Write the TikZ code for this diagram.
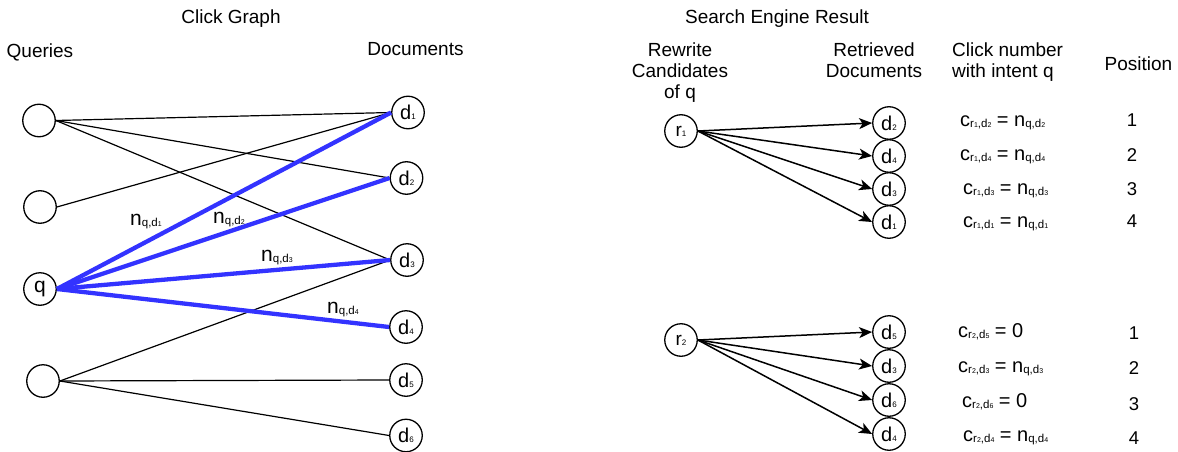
\documentclass[tikz,border=0pt]{standalone}
\usepackage{fontspec}
\setmainfont{Liberation Sans}
\usetikzlibrary{arrows.meta}

% font size shortcut
\newcommand\fs[1]{\fontsize{#1}{#1}\selectfont}
% first- and second-level subscripts
\newcommand\subA[1]{\raisebox{-1pt}{\fs{11.5}#1}}
\newcommand\subB[1]{{\fs{7}#1}}
% click counts n_{q,d_i}
\newcommand\nqd[2][21]{{\fs{#1}n}\subA{q,d\subB{#2}}}
% click counts c_{r_i,d_j}
\newcommand\crd[2]{{\fs{20}c}\subA{r\subB{#1},d\subB{#2}}}
\newcommand\eq{{\fs{20}\ =\ }}
% document / rewrite node labels
\newcommand\dlab[1]{{\fs{20}d}{\fs{8}#1}}
\newcommand\rlab[1]{{\fs{19}r}{\fs{8}#1}}

\definecolor{hlblue}{RGB}{51,51,255}
\tikzset{
  vertex/.style={circle, draw, line width=1.3pt, minimum size=32.5pt, inner sep=0pt},
  txt/.style={inner sep=0pt, font=\fs{19}},
  multi/.style={txt, align=center, font=\fontsize{19}{21}\selectfont},
  clicklink/.style={line width=1.2pt},
  strong/.style={line width=4.3pt, draw=hlblue},
  result/.style={line width=1.5pt, -{Stealth[length=13pt, width=11pt, inset=3.5pt]}},
  eqn/.style={inner sep=0pt, anchor=base west},
  posn/.style={inner sep=0pt, anchor=base, font=\fs{18.5}},
}

\begin{document}
\begin{tikzpicture}[x=1pt, y=-1pt]
\useasboundingbox (0,0) rectangle (1178,452);

% ---------- click graph ----------
\node[txt, anchor=base] (cgtitle) at (231,23.3) {Click Graph};
\node[txt, anchor=base west] (qhead) at (6.5,57.5) {Queries};
\node[txt, anchor=base] (dhead) at (415.5,56) {Documents};

\node[vertex] (qa) at (39,120.5) {};
\node[vertex] (qb) at (40,207) {};
\node[vertex] (q)  at (40,289) {\fs{21}q};
\node[vertex] (qc) at (43,381) {};

\node[vertex] (d1) at (408,112.5) {\dlab{1}};
\node[vertex] (d2) at (406.5,178) {\dlab{2}};
\node[vertex] (d3) at (407,260) {\dlab{3}};
\node[vertex] (d4) at (406,327) {\dlab{4}};
\node[vertex] (d5) at (406,380) {\dlab{5}};
\node[vertex] (d6) at (406,435.5) {\dlab{6}};

\draw[clicklink] (qa.east) -- (d1.west);
\draw[clicklink] (qa.east) -- (d2.west);
\draw[clicklink] (qa.east) -- (d3.west);
\draw[clicklink] (qb.east) -- (d1.west);
\draw[clicklink] (qc.east) -- (d3.west);
\draw[clicklink] (qc.east) -- (d5.west);
\draw[clicklink] (qc.east) -- (d6.west);

\draw[strong] (q.east) -- (d1.west);
\draw[strong] (q.east) -- (d2.west);
\draw[strong] (q.east) -- (d3.west);
\draw[strong] (q.east) -- (d4.west);

\node[inner sep=0pt, anchor=base west] (n1) at (130,225) {\nqd{1}};
\node[inner sep=0pt, anchor=base west] (n2) at (213,223) {\nqd{2}};
\node[inner sep=0pt, anchor=base west] (n3) at (261,261) {\nqd{3}};
\node[inner sep=0pt, anchor=base west] (n4) at (327,313) {\nqd{4}};

% ---------- search engine result ----------
\node[txt, anchor=base] (sertitle) at (777,23.3) {Search Engine Result};
\node[multi, anchor=north] (rhead) at (680,43) {Rewrite\\Candidates\\of q};
\node[multi, anchor=north] (rdhead) at (874,43) {Retrieved\\Documents};
\node[multi, align=left, anchor=north west] (chead) at (952,43) {Click number\\with intent q};
\node[txt, anchor=base] (phead) at (1138.5,70.5) {Position};

\node[vertex] (r1) at (681,131) {\rlab{1}};
\node[vertex] (ra2) at (889,123) {\dlab{2}};
\node[vertex] (ra4) at (889,156) {\dlab{4}};
\node[vertex] (ra3) at (889,189) {\dlab{3}};
\node[vertex] (ra1) at (889,222) {\dlab{1}};
\foreach \t in {ra2,ra4,ra3,ra1} \draw[result] (r1.east) -- (\t.west);

\node[vertex] (r2) at (681,340) {\rlab{2}};
\node[vertex] (rb5) at (889,332) {\dlab{5}};
\node[vertex] (rb3) at (889,366) {\dlab{3}};
\node[vertex] (rb6) at (889,400) {\dlab{6}};
\node[vertex] (rb4) at (889,434) {\dlab{4}};
\foreach \t in {rb5,rb3,rb6,rb4} \draw[result] (r2.east) -- (\t.west);

\node[eqn] (ca) at (960,126) {\crd{1}{2}\eq\nqd[20]{2}};
\node[eqn] (cb) at (960,160) {\crd{1}{4}\eq\nqd[20]{4}};
\node[eqn] (cc) at (963,194) {\crd{1}{3}\eq\nqd[20]{3}};
\node[eqn] (cd) at (963,227) {\crd{1}{1}\eq\nqd[20]{1}};

\node[eqn] (ce) at (958,337) {\crd{2}{5}\eq{\fs{20}0}};
\node[eqn] (cf) at (958,372) {\crd{2}{3}\eq\nqd[20]{3}};
\node[eqn] (cg) at (962,407) {\crd{2}{6}\eq{\fs{20}0}};
\node[eqn] (ch) at (963,441) {\crd{2}{4}\eq\nqd[20]{4}};

\node[posn] (p1) at (1132,126.5) {1};
\node[posn] (p2) at (1132,161.5) {2};
\node[posn] (p3) at (1132,195) {3};
\node[posn] (p4) at (1132,227.5) {4};
\node[posn] (p5) at (1134,339.5) {1};
\node[posn] (p6) at (1134,374) {2};
\node[posn] (p7) at (1134,410) {3};
\node[posn] (p8) at (1134,444) {4};
\end{tikzpicture}
\end{document}
